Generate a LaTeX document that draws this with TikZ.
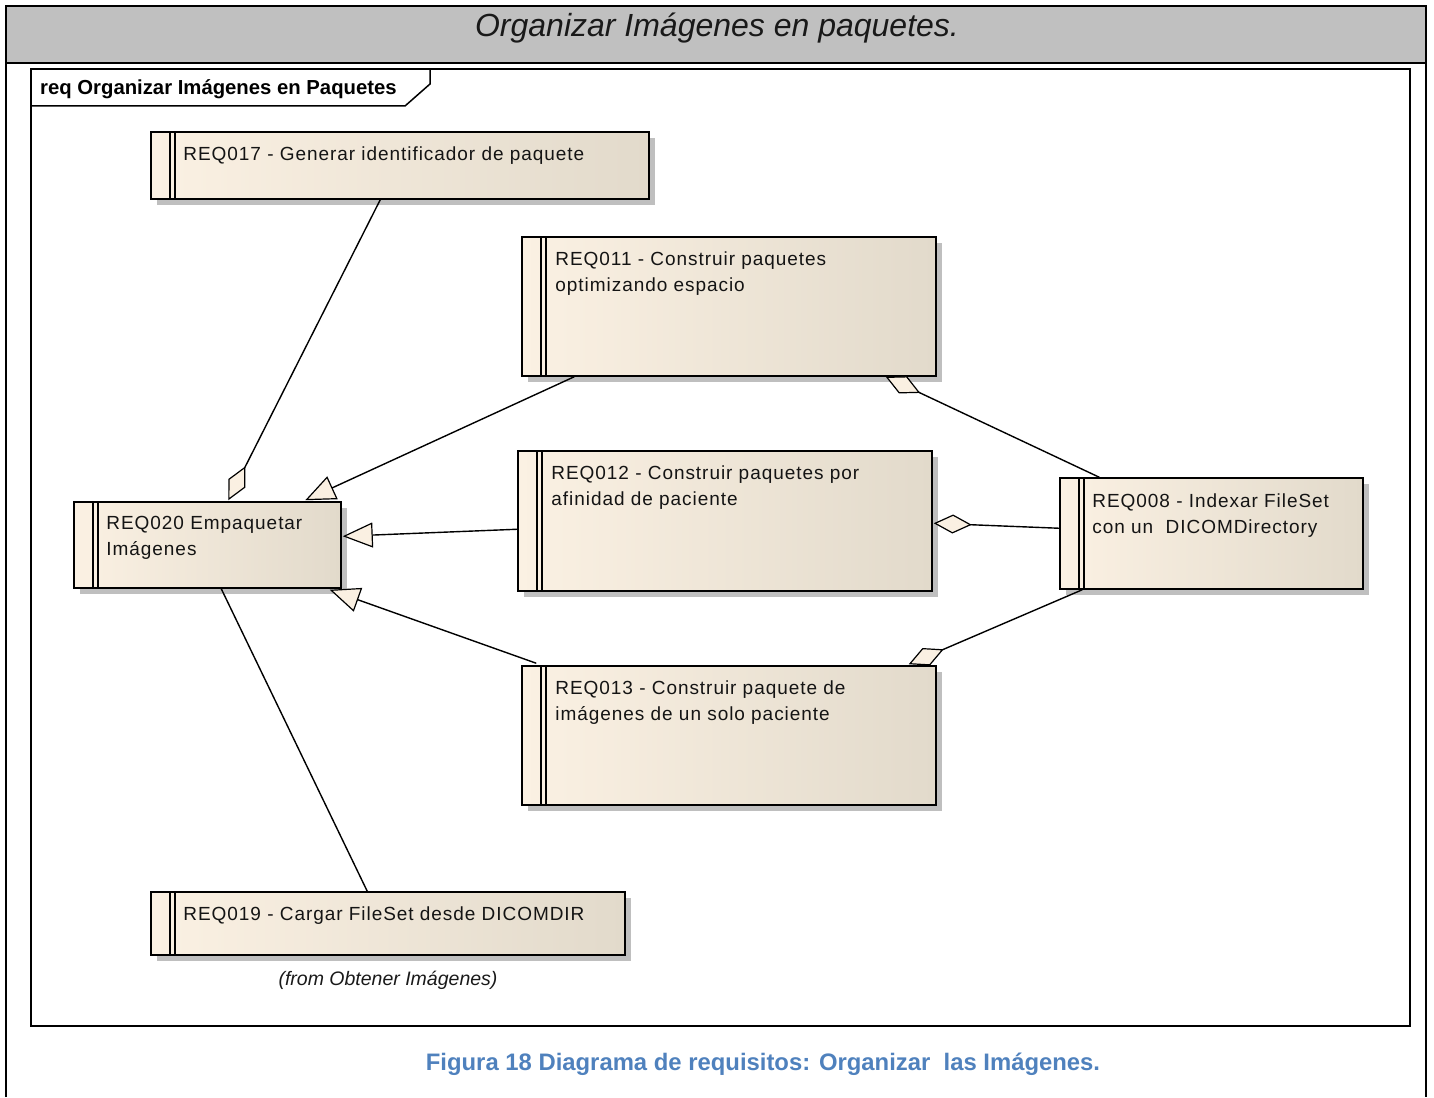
\documentclass[tikz,border=0pt]{standalone}
\usepackage{fontspec}
\setmainfont{Liberation Sans}
\newfontfamily\reqfont[LetterSpace=5]{Liberation Sans}
\usetikzlibrary{arrows.meta,calc,shadows}
\definecolor{bandgray}{HTML}{C0C0C0}
\definecolor{reqlight}{HTML}{FBF1E3}
\definecolor{reqdark}{HTML}{E2DACB}
\definecolor{tipfill}{HTML}{FAF0E2}
\definecolor{capblue}{HTML}{4F81BD}

\begin{document}
\begin{tikzpicture}[x=1pt,y=-1pt,
  reqbox/.style={draw=black, line width=1.5pt, rectangle, inner sep=0pt,
    left color=reqlight, right color=reqdark,
    drop shadow={shadow xshift=6pt, shadow yshift=-6pt, fill=black!25, opacity=1},
    path picture={
      \draw[line width=1.3pt]
        ([xshift=19pt]path picture bounding box.north west) -- ([xshift=19pt]path picture bounding box.south west)
        ([xshift=24pt]path picture bounding box.north west) -- ([xshift=24pt]path picture bounding box.south west);}},
  reqtext/.style={anchor=north west, align=left, inner sep=0pt, text=black!92,
    font=\reqfont\fontsize{19}{26}\selectfont},
  link/.style={line width=1.4pt},
  aggr/.style={link, -{Diamond[length=38pt, width=19pt, fill=tipfill, line width=1.2pt]}},
  gen/.style={link, -{Triangle[length=30pt, width=25pt, fill=tipfill, line width=1.2pt]}}
]
\useasboundingbox (0,0) rectangle (1434,1097);

% page frame and title band
\fill[bandgray] (6,6) rectangle (1426,63);
\draw[line width=2pt] (6,1097) -- (6,6) -- (1426,6) -- (1426,1097);
\draw[line width=2pt] (6,63) -- (1426,63);
\node[anchor=base, font=\itshape\fontsize{32}{36}\selectfont, text=black!90] (title) at (717,36.5) {Organizar Imágenes en paquetes.};

% diagram frame with name tab
\draw[line width=1.5pt] (31,69) rectangle (1410,1026);
\draw[line width=1.5pt] (31,106) -- (405,106) -- (430,84) -- (430,69);
\node[anchor=base west, font=\bfseries\fontsize{20.3}{22}\selectfont, inner sep=0pt] (frame) at (40,95) {req Organizar Imágenes en Paquetes};

% requirements
\node[reqbox, minimum width=498pt, minimum height=67pt] (r17) at (400,165.5) {};
\node[reqbox, minimum width=414pt, minimum height=139pt] (r11) at (729,306.5) {};
\node[reqbox, minimum width=414pt, minimum height=140pt] (r12) at (725,521) {};
\node[reqbox, minimum width=303pt, minimum height=111pt] (r08) at (1211.5,533.5) {};
\node[reqbox, minimum width=267pt, minimum height=86pt] (r20) at (207.5,545) {};
\node[reqbox, minimum width=414pt, minimum height=139pt] (r13) at (729,735.5) {};
\node[reqbox, minimum width=474pt, minimum height=63pt] (r19) at (388,923.5) {};

\node[reqtext] (t17) at ($(r17.north west)+(33,11)$) {\strut REQ017 - Generar identificador de paquete};
\node[reqtext] (t11) at ($(r11.north west)+(34,11)$) {\strut REQ011 - Construir paquetes\\optimizando espacio};
\node[reqtext] (t12) at ($(r12.north west)+(34,11)$) {\strut REQ012 - Construir paquetes por\\afinidad de paciente};
\node[reqtext] (t08) at ($(r08.north west)+(33,12)$) {\strut REQ008 - Indexar FileSet\\con un\ \ DICOMDirectory};
\node[reqtext] (t20) at ($(r20.north west)+(33,10)$) {\strut REQ020 Empaquetar\\Imágenes};
\node[reqtext] (t13) at ($(r13.north west)+(34,11)$) {\strut REQ013 - Construir paquete de\\imágenes de un solo paciente};
\node[reqtext] (t19) at ($(r19.north west)+(33,11)$) {\strut REQ019 - Cargar FileSet desde DICOMDIR};
\node[anchor=base, font=\itshape\fontsize{19.5}{22}\selectfont, text=black!90, inner sep=0pt] (from19) at (388,985) {(from Obtener Imágenes)};

% relations
\draw[aggr] ($(r17.south west)+(230,0)$) -- ($(r20.north west)+(155,-1)$);
\draw[gen]  ($(r11.south west)+(53,0)$)  -- ($(r20.north west)+(232,-1)$);
\draw[gen]  ($(r12.north west)+(0,79)$)  -- ($(r20.north east)+(1,35)$);
\draw[gen]  ($(r13.north west)+(15,-2)$) -- ($(r20.south east)+(-12,1)$);
\draw[aggr] ($(r08.north west)+(40,0)$)  -- ($(r11.south east)+(-51,0)$);
\draw[aggr] ($(r08.north west)+(0,51)$)  -- ($(r12.north east)+(1,73)$);
\draw[aggr] ($(r08.south west)+(23,0)$)  -- ($(r13.north east)+(-28,-1)$);
\draw[link] ($(r20.south west)+(148,0)$) -- ($(r19.north west)+(217,0)$);

% caption
\node[anchor=base, font=\bfseries\fontsize{23.85}{26}\selectfont, text=capblue] (caption) at (763,1070) {Figura 18 Diagrama de requisitos: Organizar\ \ las Imágenes.};
\end{tikzpicture}
\end{document}
